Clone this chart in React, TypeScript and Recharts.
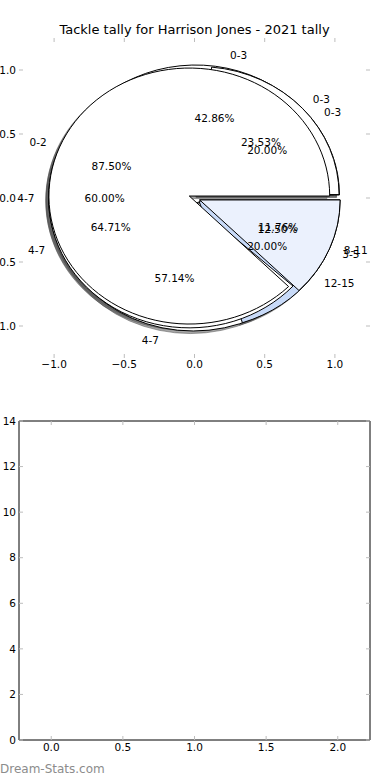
import React from 'react';
import { PieChart, Pie, Cell, ScatterChart, Scatter, XAxis, YAxis } from 'recharts';

// ---------- data ----------
const title = 'Tackle tally for Harrison Jones - 2021 tally';
const watermark = 'Dream-Stats.com';

const pieALabels = ['0-3', '4-7'];
const pieAValues = [3, 4];
const pieCLabels = ['0-3', '4-7', '12-15'];
const pieCValues = [1, 3, 1];
const pieDLabels = ['0-3', '4-7', '8-11'];
const pieDValues = [4, 11, 2];
const pieBLabels = ['0-2', '3-5'];
const pieBValues = [7, 1];

const pieAxisTicks = [-1, -0.5, 0, 0.5, 1];
const barXTicks = [0, 0.5, 1, 1.5, 2];
const barYTicks = [0, 2, 4, 6, 8, 10, 12, 14];

// ---------- styles ----------
const FONT = '"DejaVu Sans", sans-serif';
const FS = 10.5;
const TICK_GRAY = '#bdbdbd';
const pieAColors = ['#ffffff', '#ffffff'];
const pieCColors = ['#ffffff', '#ffffff', '#c8daf8'];
const pieDColors = ['#ffffff', '#ffffff', '#ebf1fd'];
const pieBColors = ['#ffffff', '#ebf1fd'];

const CX = 194.5;
const CY = 198;
const R = 128;
const SX = 140.4 / 128; // x/y unit ratio of the axes
const EXPLODE = 0.04;
const SHADOW = 0.02;
const RAD = Math.PI / 180;

const toRows = (labels: string[], values: number[]) =>
  labels.map((name, i) => ({ name, value: values[i] }));

const rowsA = toRows(pieALabels, pieAValues);
const rowsC = toRows(pieCLabels, pieCValues);
const rowsD = toRows(pieDLabels, pieDValues);
const rowsB = toRows(pieBLabels, pieBValues);

function wedgePath(p: any, extraX: number, extraY: number) {
  const s = Math.min(p.startAngle, p.endAngle);
  const e = Math.max(p.startAngle, p.endAngle);
  const mid = ((s + e) / 2) * RAD;
  const rx = p.outerRadius * SX;
  const ry = p.outerRadius;
  const ox = p.cx + EXPLODE * rx * Math.cos(mid) + extraX * rx;
  const oy = p.cy - EXPLODE * ry * Math.sin(mid) + extraY * ry;
  const x0 = ox + rx * Math.cos(s * RAD);
  const y0 = oy - ry * Math.sin(s * RAD);
  const x1 = ox + rx * Math.cos(e * RAD);
  const y1 = oy - ry * Math.sin(e * RAD);
  const large = e - s > 180 ? 1 : 0;
  return `M${ox},${oy} L${x0},${y0} A${rx},${ry} 0 ${large} 0 ${x1},${y1} Z`;
}

const WedgeShape = (p: any) => (
  <path d={wedgePath(p, 0, 0)} fill={p.fill} stroke="#000" strokeWidth={1} />
);

const ShadowShape = (p: any) => (
  <path
    d={wedgePath(p, -SHADOW, SHADOW)}
    fill="#4d4d4d"
    fillOpacity={0.5}
    stroke="#4d4d4d"
    strokeOpacity={0.5}
    strokeWidth={1}
  />
);

const renderLabel = (p: any) => {
  const mid = p.midAngle * RAD;
  const rx = p.outerRadius * SX;
  const ry = p.outerRadius;
  const c = Math.cos(mid);
  const s = Math.sin(mid);
  const lx = p.cx + (1.1 + EXPLODE) * rx * c;
  const ly = p.cy - (1.1 + EXPLODE) * ry * s;
  const px = p.cx + (0.6 + EXPLODE) * rx * c;
  const py = p.cy - (0.6 + EXPLODE) * ry * s;
  const name = p.name ?? (p.payload && p.payload.name);
  return (
    <g>
      <text x={lx} y={ly} dy="0.35em" textAnchor={c > 0 ? 'start' : 'end'} fontSize={FS} fontFamily={FONT} fill="#000">
        {name}
      </text>
      <text x={px} y={py} dy="0.35em" textAnchor="middle" fontSize={FS} fontFamily={FONT} fill="#000">
        {(p.percent * 100).toFixed(2)}%
      </text>
    </g>
  );
};

const fmt = (v: number) => (v < 0 ? '\u2212' + Math.abs(v).toFixed(1) : v.toFixed(1));
const fmtInt = (v: number) => String(v);
const blank = () => '';
const tickStyle = { fontSize: FS, fill: '#000', fontFamily: FONT };

const pieProps = {
  cx: CX,
  cy: CY,
  innerRadius: 0,
  outerRadius: R,
  startAngle: 0,
  endAngle: 360,
  dataKey: 'value',
  nameKey: 'name',
  isAnimationActive: false,
  labelLine: false,
};

const pies = [
  { id: 'A', rows: rowsA, colors: pieAColors },
  { id: 'C', rows: rowsC, colors: pieCColors },
  { id: 'D', rows: rowsD, colors: pieDColors },
  { id: 'B', rows: rowsB, colors: pieBColors },
];

export default function App() {
  return (
    <div style={{ position: 'absolute', left: 0, top: 0, width: 390, height: 780, background: '#fff', fontFamily: FONT }}>
      <div
        style={{
          position: 'absolute',
          left: 0,
          top: 22,
          width: 389,
          textAlign: 'center',
          fontSize: 13,
          lineHeight: '16px',
          color: '#000',
        }}
      >
        {title}
      </div>

      {/* axes of the pie panel */}
      <div style={{ position: 'absolute', left: 0, top: 0 }}>
        <ScatterChart width={390} height={380} margin={{ top: 38, right: 20, bottom: 0, left: 0 }}>
          <XAxis xAxisId="xl" type="number" dataKey="x" domain={[-1.25, 1.25]} allowDataOverflow ticks={pieAxisTicks} interval={0}
            orientation="bottom" height={22} tickSize={0} tickMargin={3} axisLine={false} tickLine={false} tick={tickStyle} tickFormatter={fmt} />
          <XAxis xAxisId="xb" type="number" dataKey="x" domain={[-1.25, 1.25]} allowDataOverflow ticks={pieAxisTicks} interval={0}
            orientation="bottom" mirror tickSize={4} axisLine={false} tickLine={{ stroke: TICK_GRAY }} tickFormatter={blank} />
          <XAxis xAxisId="xt" type="number" dataKey="x" domain={[-1.25, 1.25]} allowDataOverflow ticks={pieAxisTicks} interval={0}
            orientation="top" mirror tickSize={4} axisLine={false} tickLine={{ stroke: TICK_GRAY }} tickFormatter={blank} />
          <YAxis yAxisId="yl" type="number" dataKey="y" domain={[-1.25, 1.25]} allowDataOverflow ticks={pieAxisTicks} interval={0}
            orientation="left" width={19} tickSize={0} tickMargin={3} axisLine={false} tickLine={false} tick={tickStyle} tickFormatter={fmt} />
          <YAxis yAxisId="ym" type="number" dataKey="y" domain={[-1.25, 1.25]} allowDataOverflow ticks={pieAxisTicks} interval={0}
            orientation="left" mirror tickSize={4} axisLine={false} tickLine={{ stroke: TICK_GRAY }} tickFormatter={blank} />
          <YAxis yAxisId="yr" type="number" dataKey="y" domain={[-1.25, 1.25]} allowDataOverflow ticks={pieAxisTicks} interval={0}
            orientation="right" mirror tickSize={4} axisLine={false} tickLine={{ stroke: TICK_GRAY }} tickFormatter={blank} />
          <Scatter xAxisId="xl" yAxisId="yl" data={[]} isAnimationActive={false} />
        </ScatterChart>
      </div>

      {/* the overlaid pies */}
      <div style={{ position: 'absolute', left: 0, top: 0 }}>
        <PieChart width={390} height={380} margin={{ top: 0, right: 0, bottom: 0, left: 0 }}>
          {pies.map((pie) => (
            <Pie key={'s' + pie.id} {...pieProps} data={pie.rows} shape={ShadowShape} activeShape={ShadowShape} fill="#4d4d4d" stroke="none" />
          ))}
          {pies.map((pie) => (
            <Pie key={'w' + pie.id} {...pieProps} data={pie.rows} shape={WedgeShape} activeShape={WedgeShape} stroke="#000">
              {pie.rows.map((r, i) => (
                <Cell key={r.name + i} fill={pie.colors[i]} />
              ))}
            </Pie>
          ))}
          {pies.map((pie) => (
            <Pie key={'t' + pie.id} {...pieProps} data={pie.rows} fill="none" stroke="none" label={renderLabel} />
          ))}
        </PieChart>
      </div>

      {/* empty lower panel */}
      <div style={{ position: 'absolute', left: 0, top: 400 }}>
        <ScatterChart width={390} height={370} margin={{ top: 21, right: 20, bottom: 10, left: 0 }}>
          <XAxis xAxisId="xl" type="number" dataKey="x" domain={[-0.225, 2.225]} allowDataOverflow ticks={barXTicks} interval={0}
            orientation="bottom" height={20} tickSize={0} tickMargin={4} axisLine={false} tickLine={false} tick={tickStyle} tickFormatter={fmt} />
          <XAxis xAxisId="xb" type="number" dataKey="x" domain={[-0.225, 2.225]} allowDataOverflow ticks={barXTicks} interval={0}
            orientation="bottom" mirror tickSize={4} axisLine={{ stroke: '#000' }} tickLine={{ stroke: TICK_GRAY }} tickFormatter={blank} />
          <XAxis xAxisId="xt" type="number" dataKey="x" domain={[-0.225, 2.225]} allowDataOverflow ticks={barXTicks} interval={0}
            orientation="top" mirror tickSize={4} axisLine={{ stroke: '#000' }} tickLine={{ stroke: TICK_GRAY }} tickFormatter={blank} />
          <YAxis yAxisId="yl" type="number" dataKey="y" domain={[0, 14]} allowDataOverflow ticks={barYTicks} interval={0}
            orientation="left" width={19} tickSize={0} tickMargin={3} axisLine={false} tickLine={false} tick={tickStyle} tickFormatter={fmtInt} />
          <YAxis yAxisId="ym" type="number" dataKey="y" domain={[0, 14]} allowDataOverflow ticks={barYTicks} interval={0}
            orientation="left" mirror tickSize={4} axisLine={{ stroke: '#000' }} tickLine={{ stroke: TICK_GRAY }} tickFormatter={blank} />
          <YAxis yAxisId="yr" type="number" dataKey="y" domain={[0, 14]} allowDataOverflow ticks={barYTicks} interval={0}
            orientation="right" mirror tickSize={4} axisLine={{ stroke: '#000' }} tickLine={{ stroke: TICK_GRAY }} tickFormatter={blank} />
          <Scatter xAxisId="xl" yAxisId="yl" data={[]} isAnimationActive={false} />
        </ScatterChart>
      </div>

      <div
        style={{
          position: 'absolute',
          left: 0,
          top: 761,
          fontSize: 12,
          lineHeight: '16px',
          color: '#8c8c8c',
          fontFamily: FONT,
        }}
      >
        {watermark}
      </div>
    </div>
  );
}
